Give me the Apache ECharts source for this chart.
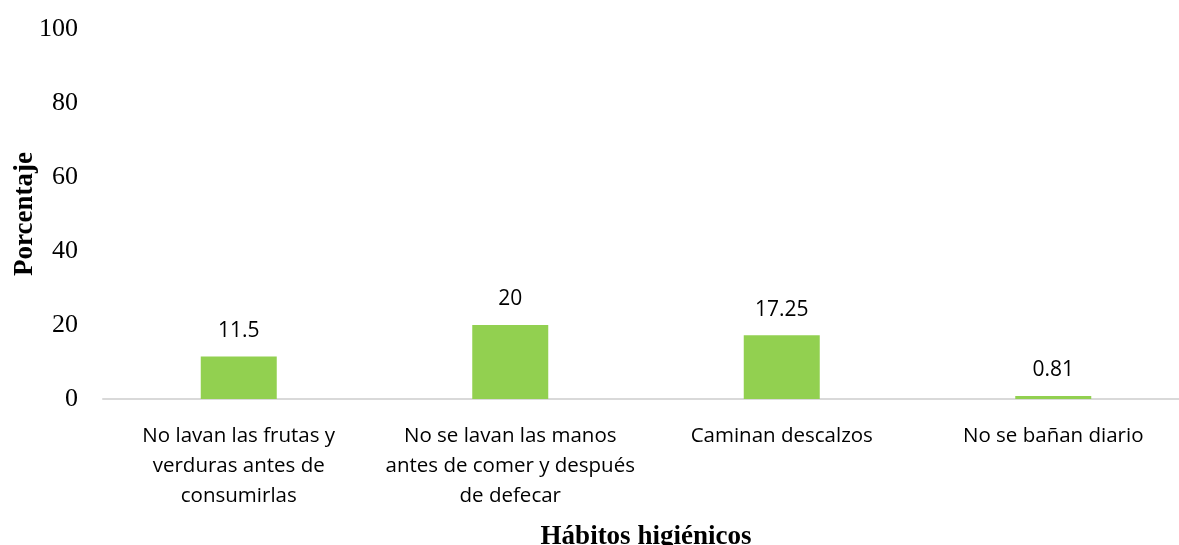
<!DOCTYPE html>
<html>
<head>
<meta charset="utf-8">
<script src="https://cdn.jsdelivr.net/npm/echarts@6/dist/echarts.min.js"></script>
<style>
html,body{margin:0;padding:0;background:#fff;}
#c{width:1179px;height:545px;}
</style>
</head>
<body>
<div id="c"></div>
<script>
const categories = [
  'No lavan las frutas y\nverduras antes de\nconsumirlas',
  'No se lavan las manos\nantes de comer y después\nde defecar',
  'Caminan descalzos',
  'No se bañan diario'
];
const values = [11.5, 20, 17.25, 0.81];
const valueLabels = ['11.5', '20', '17.25', '0.81'];
const yTicks = [0, 20, 40, 60, 80, 100];

const chart = echarts.init(document.getElementById('c'));
chart.setOption({
  animation: false,
  grid: { left: 103, width: 1086, top: 29, height: 370, containLabel: false, outerBoundsMode: 'none' },
  xAxis: {
    type: 'category',
    data: categories,
    name: 'Hábitos higiénicos',
    nameLocation: 'middle',
    nameGap: 125,
    nameMoveOverlap: false,
    nameTextStyle: { fontFamily: 'Liberation Serif', fontWeight: 'bold', fontSize: 27, color: '#000' },
    axisLine: { show: true, lineStyle: { color: '#D9D9D9', width: 2 } },
    axisTick: { show: false },
    axisLabel: {
      interval: 0,
      margin: 22,
      fontFamily: 'Open Sans',
      fontSize: 20.5,
      lineHeight: 30,
      color: '#000',
      align: 'center'
    }
  },
  yAxis: {
    type: 'value',
    min: yTicks[0],
    max: yTicks[yTicks.length - 1],
    interval: 20,
    name: 'Porcentaje',
    nameLocation: 'middle',
    nameGap: 64,
    nameRotate: 90,
    nameMoveOverlap: false,
    nameTextStyle: { fontFamily: 'Liberation Serif', fontWeight: 'bold', fontSize: 27, color: '#000' },
    axisLine: { show: false },
    axisTick: { show: false },
    splitLine: { show: false },
    axisLabel: { margin: 25, fontFamily: 'Liberation Serif', fontSize: 26, color: '#000' }
  },
  series: [{
    type: 'bar',
    data: values,
    barWidth: 76,
    itemStyle: { color: '#92D050' },
    label: {
      show: true,
      position: 'top',
      distance: 15,
      fontFamily: 'Open Sans',
      fontSize: 21,
      color: '#000',
      formatter: p => valueLabels[p.dataIndex]
    }
  }]
});
</script>
</body>
</html>
